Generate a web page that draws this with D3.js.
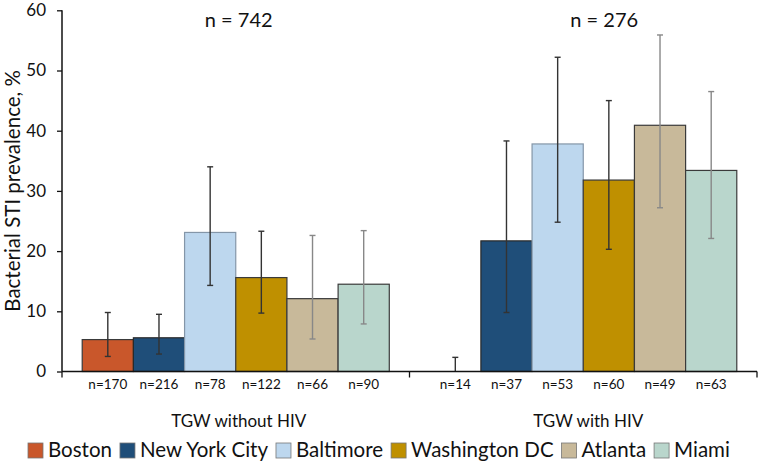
<!DOCTYPE html>
<html><head><meta charset="utf-8">
<script src="https://cdn.jsdelivr.net/npm/d3@7"></script>
<style>body{margin:0;background:#fff}svg{display:block;font-family:Lato,"Noto Sans",sans-serif}</style>
</head><body><svg id="c" width="760" height="465"></svg>
<script>
const groups = ["TGW without HIV", "TGW with HIV"];
const groupTotals = ["n = 742", "n = 276"];
const cities = ["Boston", "New York City", "Baltimore", "Washington DC", "Atlanta", "Miami"];
const prevWithout = [5.3, 5.6, 23.1, 15.6, 12.1, 14.5];
const lowWithout  = [2.5, 2.9, 14.3, 9.7, 5.4, 7.9];
const highWithout = [9.8, 9.5, 34.0, 23.3, 22.6, 23.4];
const nWithout = ["n=170", "n=216", "n=78", "n=122", "n=66", "n=90"];
const prevWith = [0, 21.7, 37.8, 31.8, 40.9, 33.4];
const lowWith  = [0, 9.8, 24.8, 20.3, 27.2, 22.1];
const highWith = [2.35, 38.3, 52.2, 45.0, 55.9, 46.5];
const nWith = ["n=14", "n=37", "n=53", "n=60", "n=49", "n=63"];
const yTicks = [0, 10, 20, 30, 40, 50, 60];

const fills = ["#C9572B", "#1F4E79", "#BDD7EE", "#BF9000", "#C8B99A", "#B9D6CC"];
const strokes = ["#3a3a3a", "#2a2a2a", "#8496A8", "#3a3a3a", "#3a3a3a", "#3a3a3a"];
const errCols = ["#333", "#333", "#333", "#333", "#888", "#888"];

const rows = [];
groups.forEach((g, gi) => {
  const p = gi === 0 ? prevWithout : prevWith;
  const lo = gi === 0 ? lowWithout : lowWith;
  const hi = gi === 0 ? highWithout : highWith;
  const nn = gi === 0 ? nWithout : nWith;
  cities.forEach((c, ci) => rows.push({g, c, ci, v: p[ci], lo: lo[ci], hi: hi[ci], n: nn[ci]}));
});

const svg = d3.select("#c");
const pLeft = 62, pRight = 757, pTop = 10.3, pBottom = 371.5;
const x0 = d3.scaleBand().domain(groups).range([pLeft, pRight]).padding(0);
const x1 = d3.scaleBand().domain(cities).range([0, x0.bandwidth()]).paddingInner(0).paddingOuter(0.395);
const y = d3.scaleLinear().domain([0, 60]).range([pBottom, pTop]);

// bars
svg.append("g").selectAll("rect").data(rows).join("rect")
  .attr("x", d => x0(d.g) + x1(d.c))
  .attr("y", d => y(d.v))
  .attr("width", x1.bandwidth())
  .attr("height", d => y(0) - y(d.v))
  .attr("fill", d => fills[d.ci])
  .attr("stroke", d => d.v > 0 ? strokes[d.ci] : "none")
  .attr("stroke-width", 1.2);

// error bars
const eb = svg.append("g").selectAll("g").data(rows).join("g")
  .attr("stroke", d => errCols[d.ci]).attr("stroke-width", 1.4);
const cx = d => x0(d.g) + x1(d.c) + x1.bandwidth() / 2;
eb.append("line").attr("x1", cx).attr("x2", cx).attr("y1", d => y(d.lo)).attr("y2", d => y(d.hi));
eb.append("line").attr("x1", d => cx(d) - 3).attr("x2", d => cx(d) + 3).attr("y1", d => y(d.hi)).attr("y2", d => y(d.hi));
eb.filter(d => d.lo > 0).append("line").attr("x1", d => cx(d) - 3).attr("x2", d => cx(d) + 3).attr("y1", d => y(d.lo)).attr("y2", d => y(d.lo));

// y axis
const ya = svg.append("g").attr("transform", `translate(${pLeft},0)`)
  .call(d3.axisLeft(y).tickValues(yTicks).tickSize(5).tickPadding(11));
ya.select(".domain").attr("stroke", "#111").attr("stroke-width", 1.5).attr("d", `M0,${pTop}V${pBottom}`);
ya.selectAll(".tick line").attr("stroke", "#111").attr("stroke-width", 1.3);
ya.selectAll(".tick text").attr("font-size", 17).attr("fill", "#111").attr("font-family", "Lato");

// x axis line + boundary ticks
const xa = svg.append("g").attr("transform", `translate(0,${pBottom})`);
xa.append("line").attr("x1", pLeft).attr("x2", pRight).attr("stroke", "#111").attr("stroke-width", 1.5);
const bounds = groups.map(g => x0(g)).concat([x0(groups[groups.length - 1]) + x0.bandwidth()]);
xa.selectAll("line.b").data(bounds).join("line").attr("class", "b")
  .attr("x1", d => d).attr("x2", d => d).attr("y1", 0).attr("y2", 6)
  .attr("stroke", "#111").attr("stroke-width", 1.3);

// n= labels
svg.append("g").selectAll("text").data(rows).join("text")
  .attr("x", cx).attr("y", 388.5).attr("text-anchor", "middle")
  .attr("font-size", 13.5).attr("fill", "#111").text(d => d.n);

// group labels
svg.append("g").selectAll("text").data(groups).join("text")
  .attr("x", (d, i) => x0(d) + x0.bandwidth() / 2 + (i === 0 ? 3 : 5)).attr("y", 427)
  .attr("text-anchor", "middle").attr("font-size", 17).attr("fill", "#111").text(d => d);

// totals
svg.append("g").selectAll("text").data(groupTotals).join("text")
  .attr("x", (d, i) => x0(groups[i]) + x0.bandwidth() / 2 + (i === 0 ? 3 : 21)).attr("y", 27)
  .attr("text-anchor", "middle").attr("font-size", 20).attr("fill", "#111").text(d => d);

// y title
svg.append("text").attr("transform", `translate(20,${(pBottom + pTop) / 2}) rotate(-90)`)
  .attr("text-anchor", "middle").attr("font-size", 20.5).attr("fill", "#111")
  .text("Bacterial STI prevalence, %");

// legend
const lg = svg.append("g").attr("transform", "translate(28,457)");
let xp = 0;
cities.forEach((c, i) => {
  const g = lg.append("g").attr("transform", `translate(${xp},0)`);
  g.append("rect").attr("x", 0).attr("y", -14).attr("width", 15).attr("height", 15)
    .attr("fill", fills[i]).attr("stroke", "#777").attr("stroke-width", 0.8);
  const t = g.append("text").attr("x", 20).attr("y", 0).attr("font-size", 20.5).attr("fill", "#111").text(c);
  xp += 20 + t.node().getComputedTextLength() + 8;
});
</script></body></html>
